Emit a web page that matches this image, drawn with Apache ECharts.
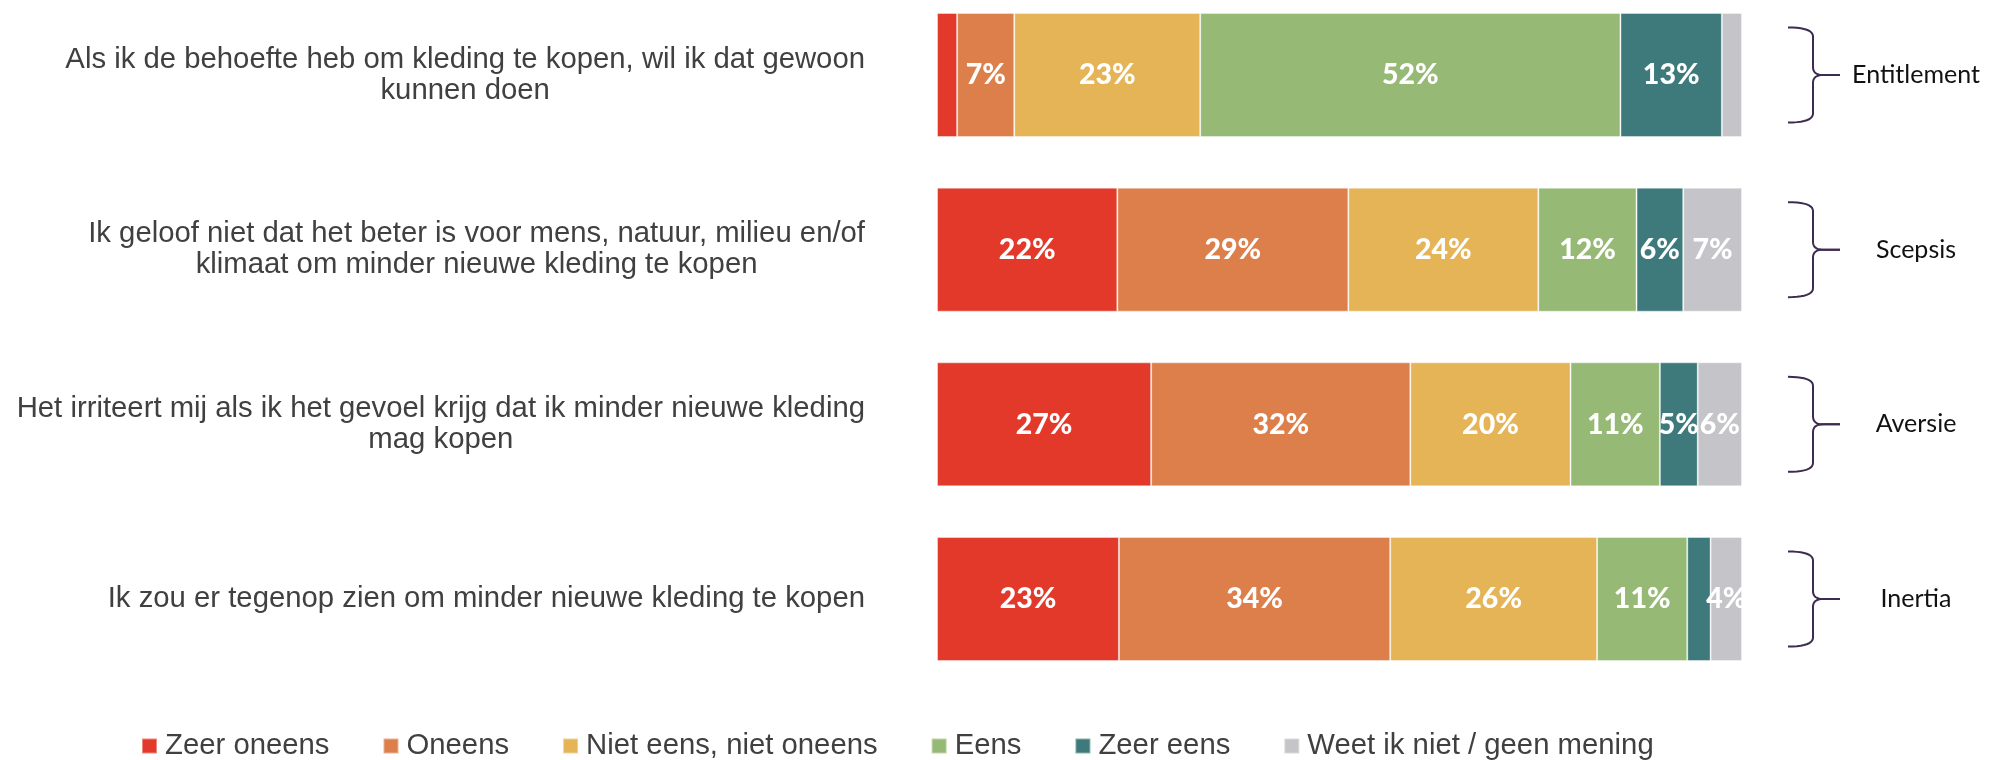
<!DOCTYPE html>
<html><head><meta charset="utf-8">
<script src="https://cdn.jsdelivr.net/npm/echarts@6/dist/echarts.min.js"></script>
<style>html,body{margin:0;padding:0;background:#fff}#c{width:1989px;height:760px}</style>
</head><body><div id="c"></div>
<script>
const statements = [
  'Als ik de behoefte heb om kleding te kopen, wil ik dat gewoon\nkunnen doen',
  'Ik geloof niet dat het beter is voor mens, natuur, milieu en/of\nklimaat om minder nieuwe kleding te kopen',
  'Het irriteert mij als ik het gevoel krijg dat ik minder nieuwe kleding\nmag kopen',
  'Ik zou er tegenop zien om minder nieuwe kleding te kopen'
];
const groups = ['Entitlement', 'Scepsis', 'Aversie', 'Inertia'];
const seriesNames = ['Zeer oneens', 'Oneens', 'Niet eens, niet oneens', 'Eens', 'Zeer eens', 'Weet ik niet / geen mening'];
const zeerOneens = [2.5, 22.4, 26.6, 22.6];
const oneens     = [7.1, 28.7, 32.2, 33.7];
const neutraal   = [23.1, 23.6, 19.9, 25.7];
const eens       = [52.2, 12.2, 11.1, 11.2];
const zeerEens   = [12.6, 5.8, 4.7, 2.9];
const weetNiet   = [2.5, 7.3, 5.5, 3.9];
const seriesData = [zeerOneens, oneens, neutraal, eens, zeerEens, weetNiet];
const colors = ['#e3392a', '#dc7f4b', '#e4b457', '#96b975', '#3e7a7b', '#c4c4c9'];

const FONT = '"Liberation Sans", Arial, sans-serif';
const chart = echarts.init(document.getElementById('c'));
const option = {
  animation: false,
  backgroundColor: '#ffffff',
  color: colors,
  grid: { left: 937, top: -12.35, width: 805, height: 698.7, containLabel: false, outerBoundsMode: 'none' },
  legend: {
    left: 141, top: 731, padding: 0,
    icon: 'rect', itemWidth: 15, itemHeight: 15, itemGap: 53,
    textStyle: { fontSize: 29.3, color: '#404040', fontFamily: FONT, lineHeight: 30, padding: [0, 0, 0, 3] },
    data: seriesNames
  },
  xAxis: { type: 'value', min: 0, max: 100, show: false },
  yAxis: {
    type: 'category', inverse: true, data: statements,
    axisLine: { show: false }, axisTick: { show: false },
    axisLabel: {
      margin: 72, align: 'right',
      formatter: v => v.split('\n').map(l => '{c|' + l + '}').join('\n'),
      rich: { c: { align: 'center', fontSize: 29.3, lineHeight: 31, color: '#404040', fontFamily: FONT } }
    }
  },
  series: seriesNames.map((n, i) => ({
    name: n, type: 'bar', stack: 'all', barWidth: 124,
    data: seriesData[i],
    itemStyle: { color: colors[i], borderColor: 'rgba(255,255,255,0.4)', borderWidth: 1 },
    label: {
      show: true, position: 'inside', color: '#ffffff',
      fontFamily: 'Lato, sans-serif', fontWeight: 900, fontSize: 28.5,
      formatter: p => p.value >= 3.5 ? Math.round(p.value) + '%' : ''
    }
  }))
};
chart.setOption(option);

function quad(p0, c, p1, n, out) {
  for (let k = 1; k <= n; k++) {
    const t = k / n, u = 1 - t;
    out.push([u * u * p0[0] + 2 * u * t * c[0] + t * t * p1[0], u * u * p0[1] + 2 * u * t * c[1] + t * t * p1[1]]);
  }
}
const graphics = [];
groups.forEach((g, i) => {
  const cy = chart.convertToPixel({ yAxisIndex: 0 }, i);
  const h = 47.5, x0 = 1788, xv = 1813, xt = 1840;
  [-1, 1].forEach(sgn => {
    const yEnd = cy + sgn * h;
    const pts = [[x0, yEnd]];
    quad([x0, yEnd], [xv, yEnd], [xv, yEnd - sgn * 9], 10, pts);
    pts.push([xv, cy + sgn * 8]);
    quad([xv, cy + sgn * 8], [xv, cy], [xv + 10, cy], 10, pts);
    pts.push([xt, cy]);
    graphics.push({ type: 'polyline', shape: { points: pts }, style: { stroke: '#3e2b52', lineWidth: 2, fill: null } });
  });
  graphics.push({ type: 'text', x: 1916, y: cy, style: { text: g, fill: '#111111', fontSize: 25, fontFamily: 'Lato, sans-serif', align: 'center', verticalAlign: 'middle' } });
});
chart.setOption({ graphic: graphics });
</script></body></html>
